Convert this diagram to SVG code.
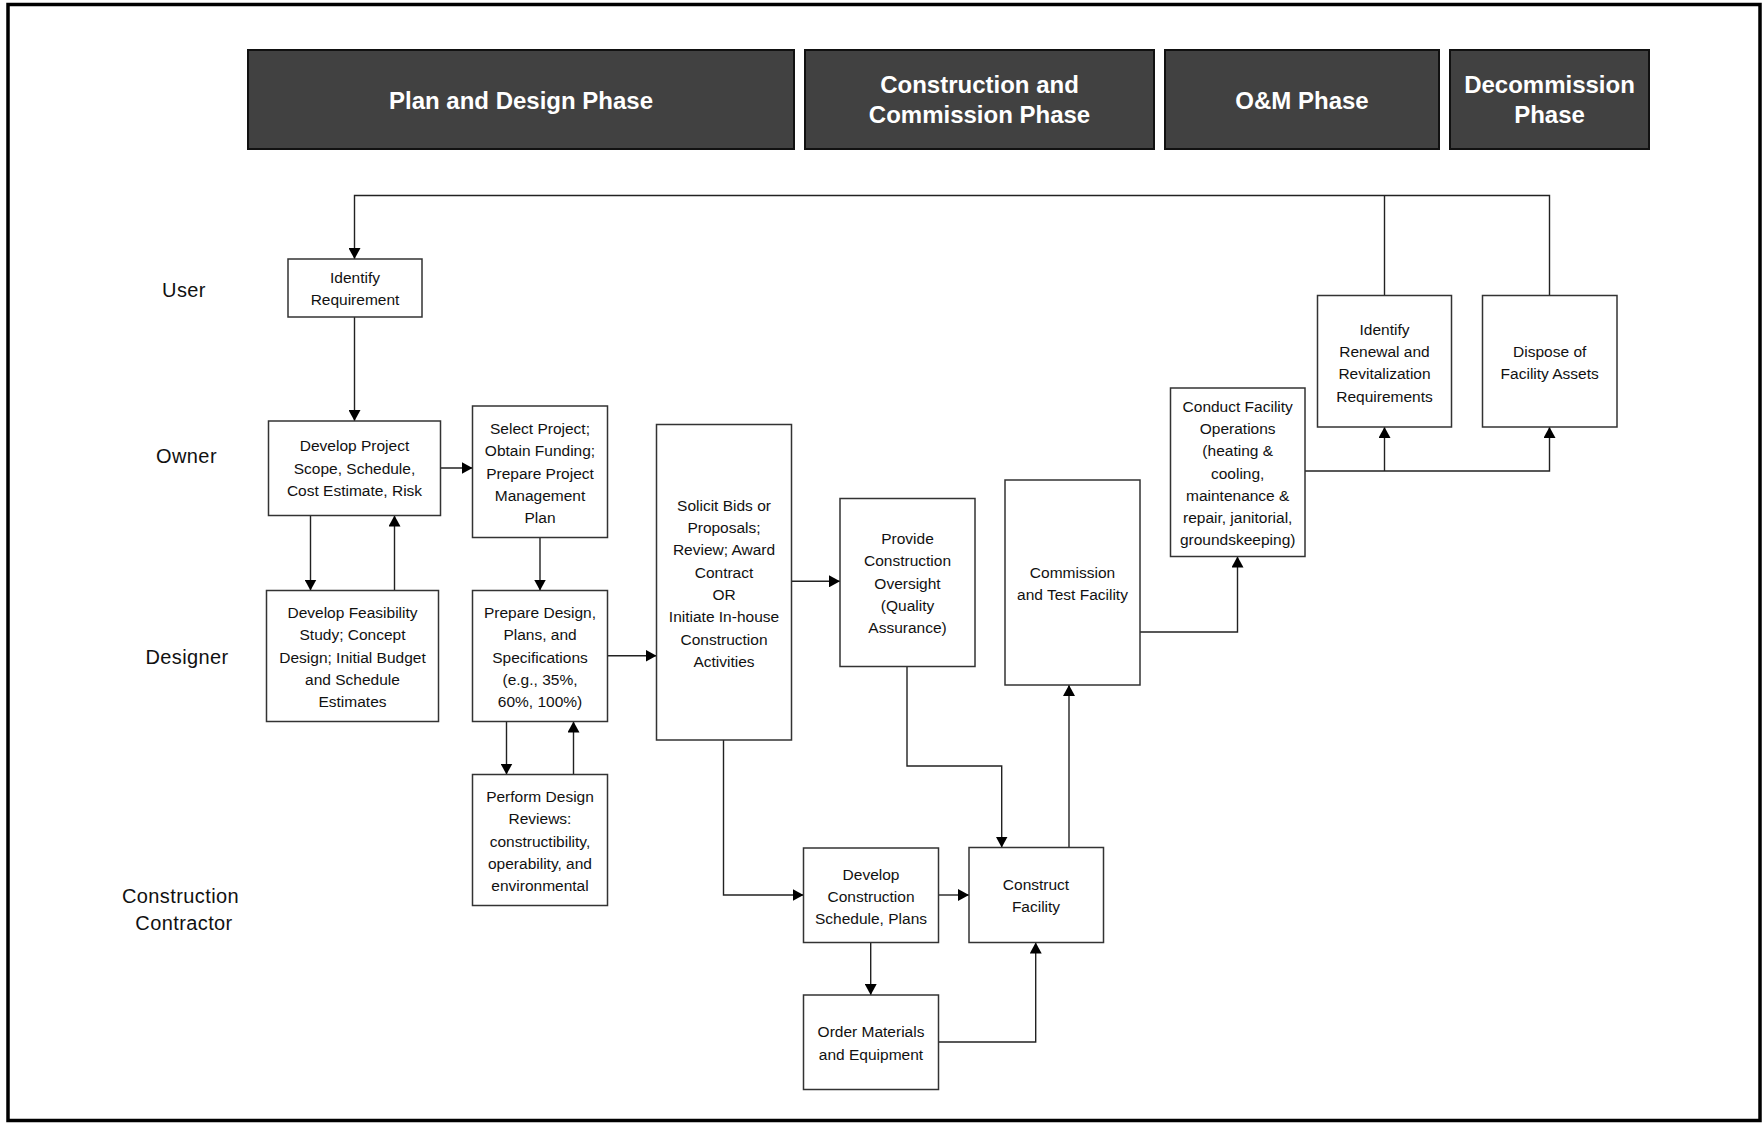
<svg xmlns="http://www.w3.org/2000/svg" width="1762" height="1123" viewBox="0 0 1762 1123">
<style>
.frame{fill:#fff;stroke:#000;stroke-width:3.5}
.phase rect{fill:#414141;stroke:#111;stroke-width:2}
.phase text{font-family:"Liberation Sans",Arial,sans-serif;font-size:24px;font-weight:bold;fill:#fff;text-anchor:middle}
.lane{font-family:"Liberation Sans",Arial,sans-serif;font-size:20px;fill:#111;text-anchor:middle;letter-spacing:0.4px}
.node rect{fill:#fff;stroke:#333;stroke-width:1.5}
.node text{font-family:"Liberation Sans",Arial,sans-serif;font-size:15.5px;fill:#111;text-anchor:middle}
.conn path{fill:none;stroke:#222;stroke-width:1.4}
</style>
<defs>
<marker id="ah" markerUnits="userSpaceOnUse" viewBox="0 0 11 12" refX="11" refY="6" markerWidth="11" markerHeight="12" orient="auto">
<path d="M0,0 L11,6 L0,12 z" fill="#000"/>
</marker>
</defs>
<rect class="frame" x="8" y="4.5" width="1752" height="1116"/>

<g id="phases">
<g id="phase-plan" class="phase"><rect x="248" y="50" width="546" height="99"/><text x="521" y="108.5">Plan and Design Phase</text></g>
<g id="phase-construction" class="phase"><rect x="805" y="50" width="349" height="99"/><text x="979.5" y="92.5">Construction and</text><text x="979.5" y="122.5">Commission Phase</text></g>
<g id="phase-om" class="phase"><rect x="1165" y="50" width="274" height="99"/><text x="1302" y="108.5">O&amp;M Phase</text></g>
<g id="phase-decommission" class="phase"><rect x="1450" y="50" width="199" height="99"/><text x="1549.5" y="92.5">Decommission</text><text x="1549.5" y="122.5">Phase</text></g>
</g>

<g id="lanes">
<text class="lane" x="184" y="296.5">User</text>
<text class="lane" x="186.5" y="462.5">Owner</text>
<text class="lane" x="187" y="663.5">Designer</text>
<text class="lane" x="180.5" y="903">Construction</text>
<text class="lane" x="184" y="929.5">Contractor</text>
</g>

<g id="connectors" class="conn">
<path d="M1549.5,295.5 V195.5 H354.5 V259" marker-end="url(#ah)"/>
<path d="M1384.5,295.5 V195.5"/>
<path d="M354.5,317 V421" marker-end="url(#ah)"/>
<path d="M310.5,515.5 V590.5" marker-end="url(#ah)"/>
<path d="M394.5,590.5 V515.5" marker-end="url(#ah)"/>
<path d="M440.5,468 H472.5" marker-end="url(#ah)"/>
<path d="M540,537.5 V590.5" marker-end="url(#ah)"/>
<path d="M506.5,721.5 V774.5" marker-end="url(#ah)"/>
<path d="M573.5,774.5 V721.5" marker-end="url(#ah)"/>
<path d="M607.5,655.7 H656.5" marker-end="url(#ah)"/>
<path d="M791.5,581.3 H840" marker-end="url(#ah)"/>
<path d="M723.5,740 V895 H803.5" marker-end="url(#ah)"/>
<path d="M907,666.5 V766 H1001.7 V847.5" marker-end="url(#ah)"/>
<path d="M938.5,895 H969" marker-end="url(#ah)"/>
<path d="M870.7,942.5 V995" marker-end="url(#ah)"/>
<path d="M938.5,1042 H1035.7 V942.5" marker-end="url(#ah)"/>
<path d="M1069,847.5 V685" marker-end="url(#ah)"/>
<path d="M1140,632 H1237.5 V556.5" marker-end="url(#ah)"/>
<path d="M1305,471 H1549.5 V427" marker-end="url(#ah)"/>
<path d="M1384.5,471 V427" marker-end="url(#ah)"/>
</g>

<g id="n-identify-requirement" class="node"><rect x="288" y="259" width="134" height="58"/>
<text x="355" y="283"><tspan x="355">Identify</tspan><tspan x="355" dy="22.3">Requirement</tspan></text></g>

<g id="n-develop-scope" class="node"><rect x="268.5" y="421" width="172" height="94.5"/>
<text x="354.5" y="451.2"><tspan x="354.5">Develop Project</tspan><tspan x="354.5" dy="22.3">Scope, Schedule,</tspan><tspan x="354.5" dy="22.3">Cost Estimate, Risk</tspan></text></g>

<g id="n-select-project" class="node"><rect x="472.5" y="406" width="135" height="131.5"/>
<text x="540" y="433.9"><tspan x="540">Select Project;</tspan><tspan x="540" dy="22.3">Obtain Funding;</tspan><tspan x="540" dy="22.3">Prepare Project</tspan><tspan x="540" dy="22.3">Management</tspan><tspan x="540" dy="22.3">Plan</tspan></text></g>

<g id="n-feasibility" class="node"><rect x="266.5" y="590.5" width="172" height="131"/>
<text x="352.5" y="617.9"><tspan x="352.5">Develop Feasibility</tspan><tspan x="352.5" dy="22.3">Study; Concept</tspan><tspan x="352.5" dy="22.3">Design; Initial Budget</tspan><tspan x="352.5" dy="22.3">and Schedule</tspan><tspan x="352.5" dy="22.3">Estimates</tspan></text></g>

<g id="n-prepare-design" class="node"><rect x="472.5" y="590.5" width="135" height="131"/>
<text x="540" y="617.9"><tspan x="540">Prepare Design,</tspan><tspan x="540" dy="22.3">Plans, and</tspan><tspan x="540" dy="22.3">Specifications</tspan><tspan x="540" dy="22.3">(e.g., 35%,</tspan><tspan x="540" dy="22.3">60%, 100%)</tspan></text></g>

<g id="n-design-reviews" class="node"><rect x="472.5" y="774.5" width="135" height="131"/>
<text x="540" y="801.9"><tspan x="540">Perform Design</tspan><tspan x="540" dy="22.3">Reviews:</tspan><tspan x="540" dy="22.3">constructibility,</tspan><tspan x="540" dy="22.3">operability, and</tspan><tspan x="540" dy="22.3">environmental</tspan></text></g>

<g id="n-solicit-bids" class="node"><rect x="656.5" y="424.5" width="135" height="315.5"/>
<text x="724" y="510.8"><tspan x="724">Solicit Bids or</tspan><tspan x="724" dy="22.3">Proposals;</tspan><tspan x="724" dy="22.3">Review; Award</tspan><tspan x="724" dy="22.3">Contract</tspan><tspan x="724" dy="22.3">OR</tspan><tspan x="724" dy="22.3">Initiate In-house</tspan><tspan x="724" dy="22.3">Construction</tspan><tspan x="724" dy="22.3">Activities</tspan></text></g>

<g id="n-oversight" class="node"><rect x="840" y="498.5" width="135" height="168"/>
<text x="907.5" y="543.9"><tspan x="907.5">Provide</tspan><tspan x="907.5" dy="22.3">Construction</tspan><tspan x="907.5" dy="22.3">Oversight</tspan><tspan x="907.5" dy="22.3">(Quality</tspan><tspan x="907.5" dy="22.3">Assurance)</tspan></text></g>

<g id="n-commission-test" class="node"><rect x="1005" y="480" width="135" height="205"/>
<text x="1072.5" y="577.9"><tspan x="1072.5">Commission</tspan><tspan x="1072.5" dy="22.3">and Test Facility</tspan></text></g>

<g id="n-construction-schedule" class="node"><rect x="803.5" y="848" width="135" height="94.5"/>
<text x="871" y="879.8"><tspan x="871">Develop</tspan><tspan x="871" dy="22.3">Construction</tspan><tspan x="871" dy="22.3">Schedule, Plans</tspan></text></g>

<g id="n-order-materials" class="node"><rect x="803.5" y="995" width="135" height="94.5"/>
<text x="871" y="1037.4"><tspan x="871">Order Materials</tspan><tspan x="871" dy="22.3">and Equipment</tspan></text></g>

<g id="n-construct-facility" class="node"><rect x="969" y="847.5" width="134.5" height="95"/>
<text x="1036" y="889.9"><tspan x="1036">Construct</tspan><tspan x="1036" dy="22.3">Facility</tspan></text></g>

<g id="n-facility-operations" class="node"><rect x="1170.5" y="388" width="134.5" height="168.5"/>
<text x="1237.7" y="411.6"><tspan x="1237.7">Conduct Facility</tspan><tspan x="1237.7" dy="22.3">Operations</tspan><tspan x="1237.7" dy="22.3">(heating &amp;</tspan><tspan x="1237.7" dy="22.3">cooling,</tspan><tspan x="1237.7" dy="22.3">maintenance &amp;</tspan><tspan x="1237.7" dy="22.3">repair, janitorial,</tspan><tspan x="1237.7" dy="22.3">groundskeeping)</tspan></text></g>

<g id="n-renewal" class="node"><rect x="1317.5" y="295.5" width="134" height="131.5"/>
<text x="1384.5" y="334.7"><tspan x="1384.5">Identify</tspan><tspan x="1384.5" dy="22.3">Renewal and</tspan><tspan x="1384.5" dy="22.3">Revitalization</tspan><tspan x="1384.5" dy="22.3">Requirements</tspan></text></g>

<g id="n-dispose" class="node"><rect x="1482.5" y="295.5" width="134.5" height="131.5"/>
<text x="1549.7" y="356.9"><tspan x="1549.7">Dispose of</tspan><tspan x="1549.7" dy="22.3">Facility Assets</tspan></text></g>
</svg>
